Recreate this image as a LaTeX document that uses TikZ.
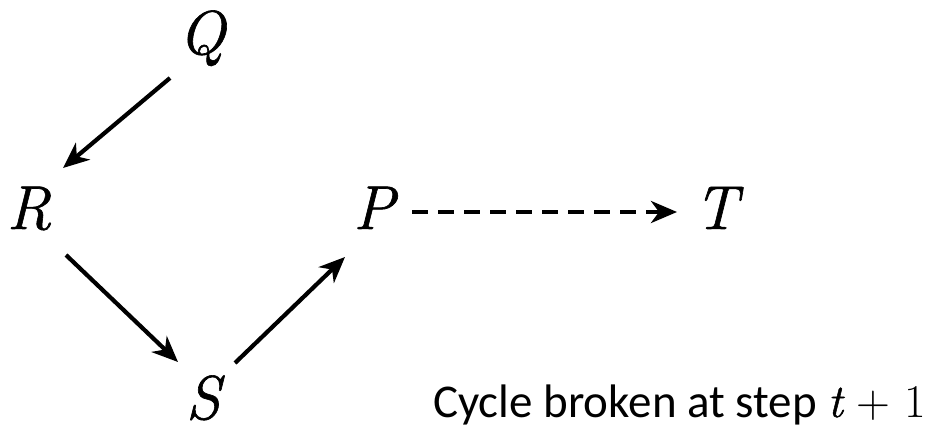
\documentclass[tikz,border=0pt]{standalone}
\usepackage{fontspec}
\newfontfamily\captionfont{Carlito}
\newfontfamily\varfont[ItalicFeatures={FakeBold=1}]{Latin Modern Roman}
\usetikzlibrary{arrows.meta}
\newcommand{\varname}[1]{{\varfont\itshape #1}}
\begin{document}
\begin{tikzpicture}[x=1pt,y=-1pt,
  var/.style={anchor=base,inner sep=0pt,font=\varfont\itshape\fontsize{62}{62}\selectfont},
  link/.style={line width=4.2pt,-{Stealth[length=26pt,width=22pt,inset=8pt]}},
  weak/.style={link,dash pattern=on 16pt off 10pt}]
\useasboundingbox (0,0) rectangle (944,430);
% variables
\node[var] (Q) at (202,54) {Q};
\node[var] (R) at (29,229) {R};
\node[var] (P) at (374,229) {P};
\node[var] (T) at (716,229) {T};
\node[var] (S) at (203,419) {S};
% dependencies
\draw[link] ([shift={(-32,24)}]Q.base) -- ([shift={(34,-61)}]R.base);
\draw[link] ([shift={(37,26)}]R.base) -- ([shift={(-25,-57)}]S.base);
\draw[link] ([shift={(32,-56)}]S.base) -- ([shift={(-29,28)}]P.base);
\draw[weak] ([shift={(38,-17)}]P.base) -- ([shift={(-39,-17)}]T.base);
% caption
\node[anchor=base west,inner sep=0pt,font=\captionfont\fontsize{47}{47}\selectfont] (cap) at (433,417)
  {Cycle broken at step \varname{t}\hspace{0.3em}{\rmfamily +\hspace{0.3em}1}};
\end{tikzpicture}
\end{document}
